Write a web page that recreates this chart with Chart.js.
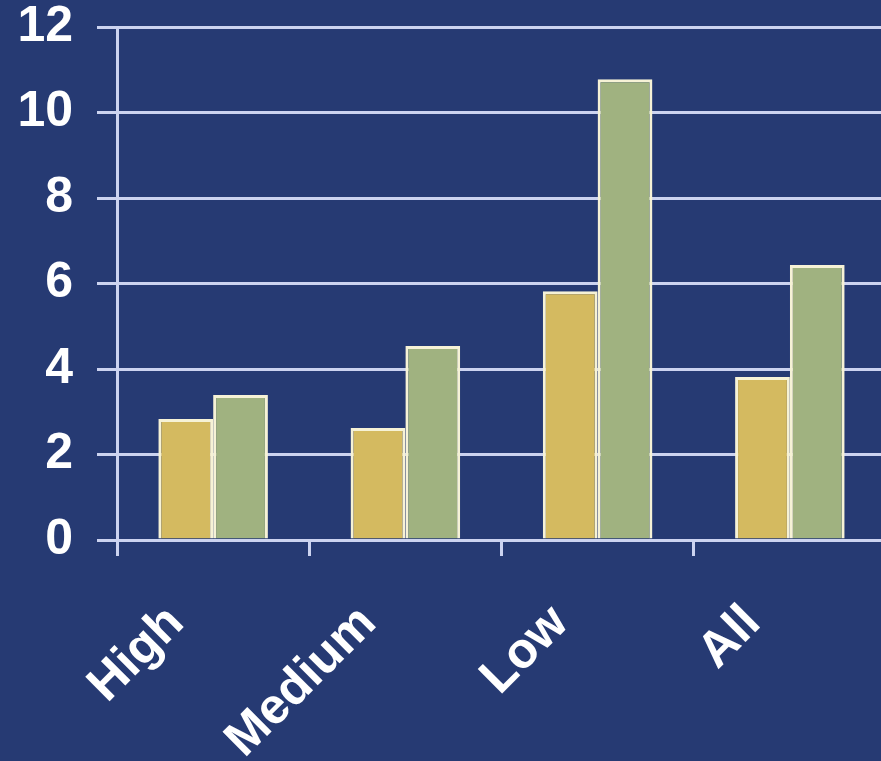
<!DOCTYPE html>
<html>
<head>
<meta charset="utf-8">
<script src="https://cdn.jsdelivr.net/npm/chart.js@4/dist/chart.umd.min.js"></script>
<style>
  html, body { margin: 0; padding: 0; overflow: hidden; background: #263a73; }
  #wrap { position: relative; width: 890px; height: 761px; }
</style>
</head>
<body>
<div id="wrap"><canvas id="bars"></canvas></div>
<script>
/* ── Dati ─────────────────────────────────────────── */
var categories = ['High', 'Medium', 'Low', 'All'];
var seriesA    = [2.83, 2.62, 5.82, 3.81];
var seriesB    = [3.39, 4.54, 10.78, 6.43];
var yTicks     = [0, 2, 4, 6, 8, 10, 12];

var GRID = '#ccd3f0';
var FONT = { family: '"Liberation Sans", Arial, sans-serif', size: 50, weight: 'bold' };

var canvas = document.getElementById('bars');
new Chart(canvas, {
  type: 'bar',
  data: {
    labels: categories,
    datasets: [
      {
        data: seriesA,
        backgroundColor: '#d4ba60',
        borderColor: '#f6f2d6',
        borderWidth: 3,
      },
      {
        data: seriesB,
        backgroundColor: '#a0b280',
        borderColor: '#f6f2d6',
        borderWidth: 3,
      },
    ],
  },
  options: {
    responsive: true,
    maintainAspectRatio: false,
    animation: false,
    layout: { padding: { top: 27, right: 4, left: 0, bottom: 0 } },
    plugins: { legend: { display: false }, tooltip: { enabled: false } },
    datasets: { bar: { categoryPercentage: 0.57, barPercentage: 1.0 } },
    scales: {
      x: {
        grid: { drawOnChartArea: false, color: GRID, lineWidth: 3, tickLength: 16 },
        border: { color: GRID, width: 3 },
        ticks: {
          color: '#ffffff',
          font: FONT,
          minRotation: 45,
          maxRotation: 45,
          labelOffset: -37,
          padding: 38,
        },
        afterFit: function(scale) {
          scale.height = 221;
          scale.paddingLeft = 0;
          scale.paddingRight = 0;
        },
      },
      y: {
        min: 0,
        max: 12,
        afterBuildTicks: function(scale) {
          scale.ticks = yTicks.map(function(v) { return { value: v }; });
        },
        grid: { color: GRID, lineWidth: 3, tickLength: 20 },
        border: { color: GRID, width: 3 },
        ticks: { color: '#ffffff', font: FONT, padding: 24 },
        afterFit: function(scale) {
          scale.width = 117;
          scale.paddingTop = 0;
          scale.paddingBottom = 0;
        },
      },
    },
  },
});
</script>
</body>
</html>
